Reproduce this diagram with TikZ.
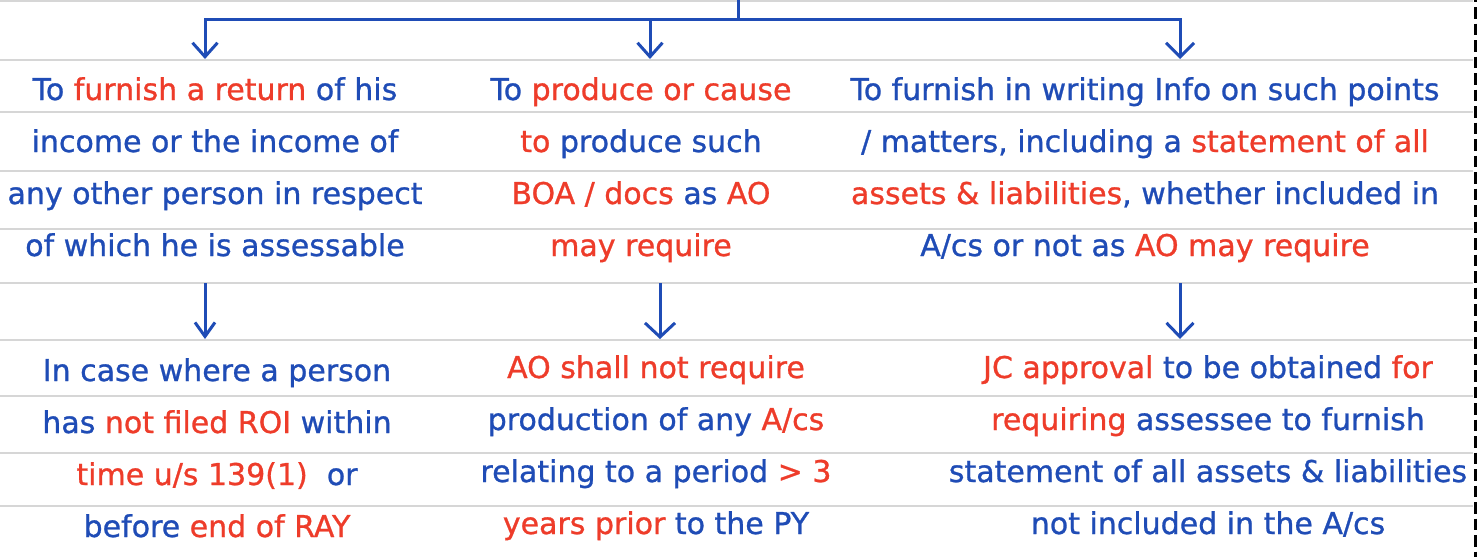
\documentclass[tikz,border=0pt]{standalone}
\usepackage{fontspec}
\setmainfont{DejaVu Sans}[FakeBold=0.9]
\usetikzlibrary{arrows.meta}

\definecolor{inkblue}{RGB}{31,76,182}
\definecolor{inkred}{RGB}{238,60,42}
\definecolor{ruling}{RGB}{214,214,214}

% red highlight for key phrases
\newcommand{\hl}[1]{\textcolor{inkred}{#1}}
% one centred block of lines, baseline on its first line
\newcommand{\lines}[1]{\begin{tabular}[t]{@{}c@{}}#1\end{tabular}}

\begin{document}
\begin{tikzpicture}[x=1pt,y=-1pt,
  block/.style={anchor=base, inner sep=0pt, text=inkblue,
    font=\fontsize{30}{52}\selectfont},
  ruleline/.style={draw=ruling, line width=2pt},
  link/.style={draw=inkblue, line width=3pt},
  tip/.style={-{Straight Barb[length=14pt,width=#1,line width=3pt]}},
  tip/.default=26pt]

% page and ruled lines
\fill[white] (0,0) rectangle (1481,557);
\useasboundingbox (0,0) rectangle (1481,557);
\foreach \y in {1,60,112,171,229,283,340,396,453,506}
  \draw[ruleline] (0,\y) -- (1473,\y);
\draw[line width=3.5pt, dash pattern=on 11.5pt off 5pt, dash phase=9.5pt]
  (1475.5,0) -- (1475.5,557);

% upper row of duties
\node[block] (t1) at (215,100) {\lines{To \hl{furnish a return} of his\\
  income or the income of\\
  any other person in respect\\
  of which he is assessable}};
\node[block] (t2) at (641,100) {\lines{To \hl{produce or cause}\\
  \hl{to} produce such\\
  \hl{BOA / docs} as \hl{AO}\\
  \hl{may require}}};
\node[block] (t3) at (1145,100) {\lines{To furnish in writing Info on such points\\
  / matters, including a \hl{statement of all}\\
  \hl{assets \& liabilities}, whether included in\\
  A/cs or not as \hl{AO may require}}};

% lower row of conditions
\node[block] (b1) at (217,381) {\lines{In case where a person\\
  has \hl{not filed ROI} within\\
  \hl{time u/s 139(1)}\ \ or\\
  before \hl{end of RAY}}};
\node[block] (b2) at (656,378) {\lines{\hl{AO shall not require}\\
  production of any \hl{A/cs}\\
  relating to a period \hl{> 3}\\
  \hl{years prior} to the PY}};
\node[block] (b3) at (1208,378) {\lines{\hl{JC approval} to be obtained \hl{for}\\
  \hl{requiring} assessee to furnish\\
  statement of all assets \& liabilities\\
  not included in the A/cs}};

% connector ends
\coordinate (root) at (738,0);
\coordinate (fork) at (738,19);
\coordinate (in1) at (205,59);
\coordinate (in2) at (650,59);
\coordinate (in3) at (1180,59);
\coordinate (out1) at (205,283);
\coordinate (out2) at (660,283);
\coordinate (out3) at (1180,283);
\coordinate (in4) at (205,339);
\coordinate (in5) at (660,339);
\coordinate (in6) at (1180,339);

% branching arrows into the upper row
\draw[link] (root) -- (fork);
\draw[link, tip=25pt] (fork) -| (in1);
\draw[link, tip=25pt] (fork) -| (in2);
\draw[link, tip=28pt] (fork) -| (in3);

% arrows from upper to lower row
\draw[link, tip=20pt] (out1) -- (in4);
\draw[link, tip=30pt] (out2) -- (in5);
\draw[link, tip=27pt] (out3) -- (in6);
\end{tikzpicture}
\end{document}
